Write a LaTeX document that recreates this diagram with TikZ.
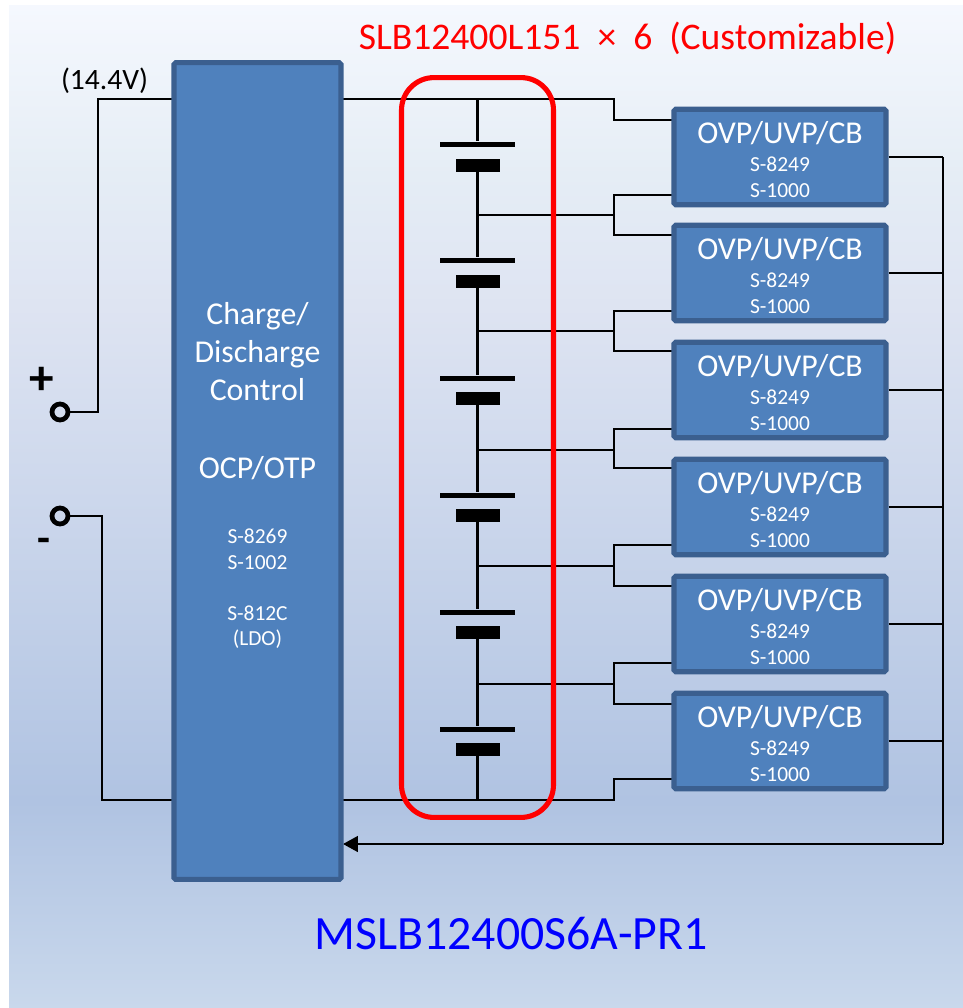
\documentclass[tikz,border=0pt]{standalone}
\usepackage{fontspec}
\setmainfont{Carlito}
\usetikzlibrary{arrows.meta}
\pgfdeclareverticalshading{panelfade}{100bp}{
  rgb(0bp)=(0.788,0.847,0.925);
  rgb(25bp)=(0.788,0.847,0.925);
  rgb(35.3bp)=(0.690,0.765,0.886);
  rgb(60bp)=(0.871,0.894,0.949);
  rgb(66.5bp)=(0.898,0.929,0.961);
  rgb(75bp)=(0.961,0.973,0.996);
  rgb(100bp)=(0.961,0.973,0.996)}
\definecolor{boxfill}{HTML}{4F81BD}
\definecolor{boxedge}{HTML}{3B5F8F}
\newcommand{\bigtext}{\fontsize{18.1}{21.6}\selectfont}
\newcommand{\smalltext}{\fontsize{12.2}{14.8}\selectfont}
\newcommand{\ovptext}{\bigtext\rule{0pt}{15.5pt}OVP/UVP/CB\\[4pt]\smalltext S-8249\\[2.8pt]\smalltext S-1000}
\begin{document}
\begin{tikzpicture}[x=0.02cm,y=0.02cm]
\tikzset{
  unitbox/.style={draw=boxedge,fill=boxfill,line width=2.9pt,rounded corners=1pt,text=white,align=center,inner sep=0pt},
  ovpbox/.style={unitbox,minimum width=4.24cm,minimum height=1.91cm},
  mainbox/.style={unitbox,minimum width=3.34cm,minimum height=16.34cm},
  wire/.style={black,line width=1.2pt},
  longplate/.style={fill=black,inner sep=0pt,minimum width=1.52cm,minimum height=0.1cm},
  shortplate/.style={fill=black,inner sep=0pt,minimum width=0.88cm,minimum height=0.26cm},
  terminal/.style={circle,draw=black,line width=2.7pt,inner sep=0pt,minimum size=0.32cm}
}
\useasboundingbox (0,0) rectangle (963,-1008);
\shade [shading=panelfade] (9,-5) rectangle (963,-1008);
% rail and tap points
\coordinate (railtop) at (477.5,-99);
\coordinate (railbot) at (477.5,-800);
\coordinate (tap1) at (477.5,-215);
\coordinate (tap2) at (477.5,-331);
\coordinate (tap3) at (477.5,-450);
\coordinate (tap4) at (477.5,-566);
\coordinate (tap5) at (477.5,-684);
\coordinate (fork0) at (614,-99);
\coordinate (fork1) at (614,-215);
\coordinate (fork2) at (614,-331);
\coordinate (fork3) at (614,-450);
\coordinate (fork4) at (614,-566);
\coordinate (fork5) at (614,-684);
\coordinate (fork6) at (614,-800);
\coordinate (in1up) at (672,-120);
\coordinate (in1lo) at (672,-195);
\coordinate (in2up) at (672,-235);
\coordinate (in2lo) at (672,-311);
\coordinate (in3up) at (672,-351);
\coordinate (in3lo) at (672,-429);
\coordinate (in4up) at (672,-468);
\coordinate (in4lo) at (672,-545);
\coordinate (in5up) at (672,-586);
\coordinate (in5lo) at (672,-663);
\coordinate (in6up) at (672,-704);
\coordinate (in6lo) at (672,-779);
\coordinate (mainup) at (343,-99);
\coordinate (mainlo) at (343,-800);
\coordinate (mainleftup) at (172,-99);
\coordinate (mainleftlo) at (172,-800);
\coordinate (cornerup) at (98,-99);
\coordinate (cornerlo) at (102,-800);
\coordinate (sumtop) at (943,-157);
\coordinate (sumbot) at (943,-844);
\coordinate (sense) at (343,-844);
% cells
\node [longplate] (long1) at (477.5,-144) {};
\node [shortplate] (short1) at (477.5,-165) {};
\node [longplate] (long2) at (477.5,-260) {};
\node [shortplate] (short2) at (477.5,-281) {};
\node [longplate] (long3) at (477.5,-378) {};
\node [shortplate] (short3) at (477.5,-398) {};
\node [longplate] (long4) at (477.5,-495) {};
\node [shortplate] (short4) at (477.5,-515) {};
\node [longplate] (long5) at (477.5,-612) {};
\node [shortplate] (short5) at (477.5,-632) {};
\node [longplate] (long6) at (477.5,-729) {};
\node [shortplate] (short6) at (477.5,-749) {};
\draw [wire] (railtop) -- (long1);
\draw [wire] (short1) -- (long2);
\draw [wire] (short2) -- (long3);
\draw [wire] (short3) -- (long4);
\draw [wire] (short4) -- (long5);
\draw [wire] (short5) -- (long6);
\draw [wire] (short6) -- (railbot);
% taps to the units
\draw [wire] (mainup) -- (fork0) |- (in1up);
\draw [wire] (tap1) -- (fork1);
\draw [wire] (in1lo) -| (fork1) |- (in2up);
\draw [wire] (tap2) -- (fork2);
\draw [wire] (in2lo) -| (fork2) |- (in3up);
\draw [wire] (tap3) -- (fork3);
\draw [wire] (in3lo) -| (fork3) |- (in4up);
\draw [wire] (tap4) -- (fork4);
\draw [wire] (in4lo) -| (fork4) |- (in5up);
\draw [wire] (tap5) -- (fork5);
\draw [wire] (in5lo) -| (fork5) |- (in6up);
\draw [wire] (mainlo) -- (fork6) |- (in6lo);
% terminals
\node [terminal] (plus) at (60,-412) {};
\node [terminal] (minus) at (60,-516) {};
\node (pluslabel) at (41.5,-381) {\fontsize{28}{28}\selectfont\textbf{+}};
\node (minuslabel) at (44,-545) {\fontsize{24}{24}\selectfont\textbf{-}};
\node (volts) at (104.5,-81) {\fontsize{16.8}{20}\selectfont (14.4V)};
\draw [wire] (plus) -| (cornerup) -- (mainleftup);
\draw [wire] (minus) -| (cornerlo) -- (mainleftlo);
% units
\draw [wire] (sumtop) -- (sumbot);
\draw [wire,-{Triangle[length=8.5pt,width=9pt]}] (sumbot) -- (sense);
\node [mainbox] (main) at (257.5,-471) {\bigtext\rule{0pt}{17.5pt}Charge/\\[4.8pt]\bigtext Discharge\\[4.8pt]\bigtext Control\\[31.2pt]\bigtext OCP/OTP\\[25pt]\smalltext S-8269\\[2.3pt]\smalltext S-1002\\[17pt]\smalltext S-812C\\[2.3pt]\smalltext (LDO)};
\node [ovpbox] (ovp1) at (780,-157) {\ovptext};
\node [ovpbox] (ovp2) at (780,-273) {\ovptext};
\node [ovpbox] (ovp3) at (780,-390) {\ovptext};
\node [ovpbox] (ovp4) at (780,-507) {\ovptext};
\node [ovpbox] (ovp5) at (780,-624) {\ovptext};
\node [ovpbox] (ovp6) at (780,-741) {\ovptext};
\draw [wire] (ovp1.east) -- (sumtop);
\draw [wire] (ovp2.east) -- (ovp2.east -| sumtop);
\draw [wire] (ovp3.east) -- (ovp3.east -| sumtop);
\draw [wire] (ovp4.east) -- (ovp4.east -| sumtop);
\draw [wire] (ovp5.east) -- (ovp5.east -| sumtop);
\draw [wire] (ovp6.east) -- (ovp6.east -| sumtop);
% pack outline and titles
\node [draw=red,line width=2.9pt,rounded corners=0.65cm,minimum width=3.04cm,minimum height=14.8cm] (pack) at (477.5,-447.5) {};
\node [text=red] (packtitle) at (627.5,-38) {\fontsize{21.4}{25}\selectfont SLB12400L151\ \ ×\ \ 6\ \ (Customizable)};
\node [text=blue] (model) at (511,-934) {\fontsize{27.2}{32}\selectfont MSLB12400S6A-PR1};
\end{tikzpicture}
\end{document}
